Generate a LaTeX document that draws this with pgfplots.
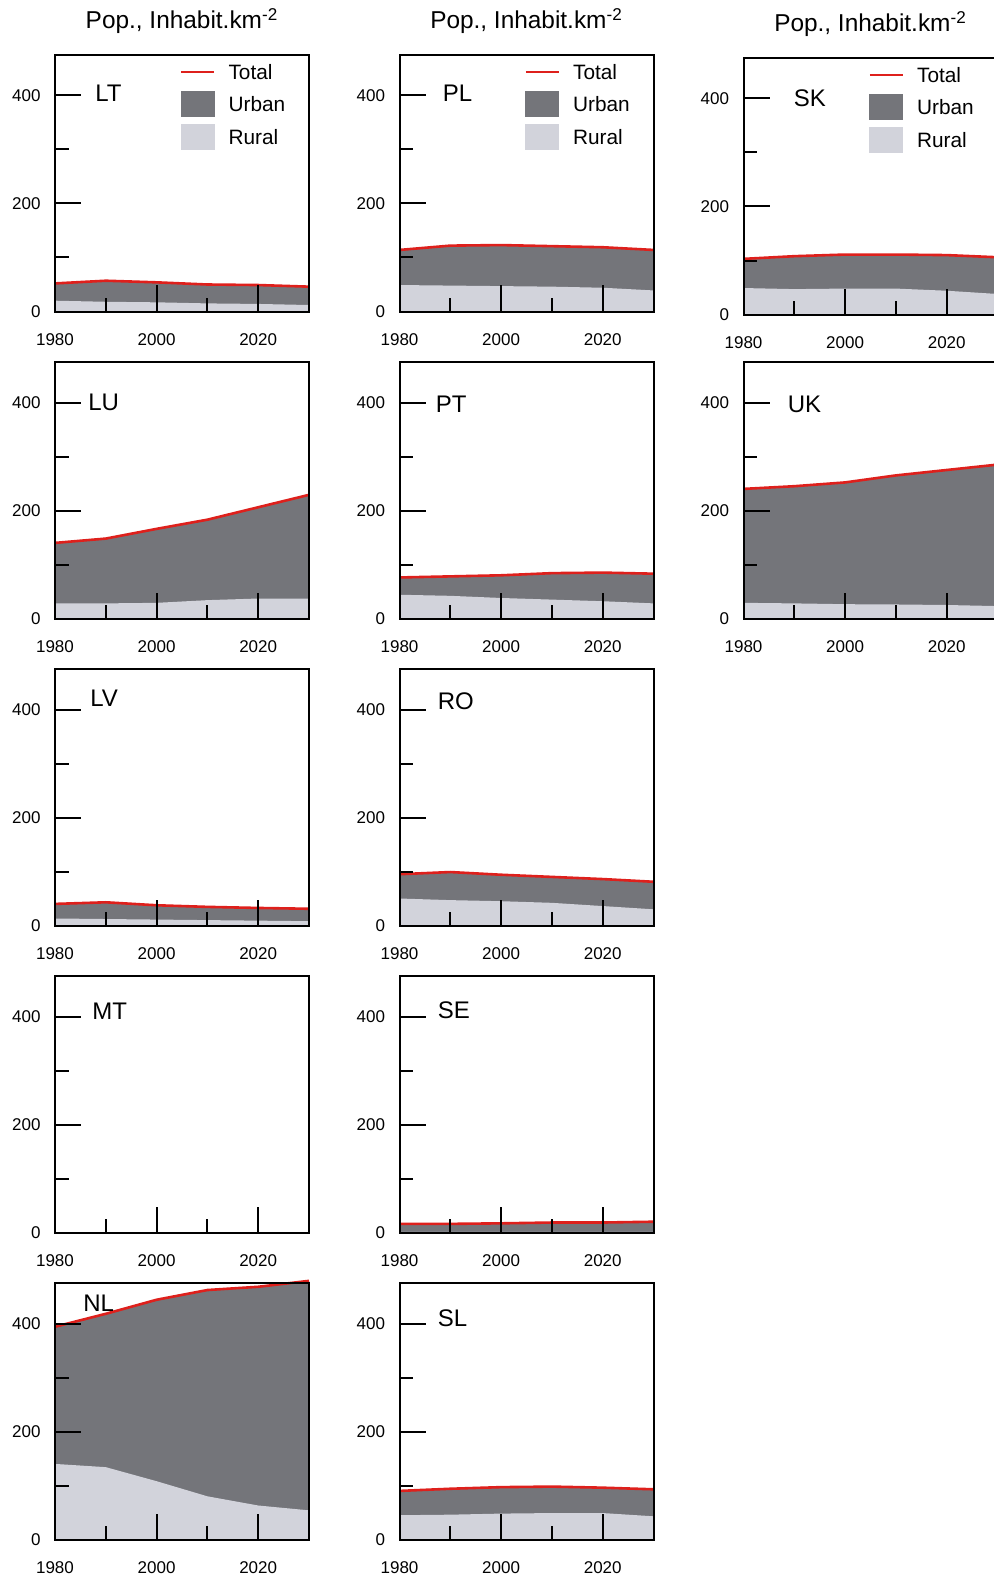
\documentclass[border=0pt]{standalone}
\usepackage{fontspec}
\setmainfont{Liberation Sans}
\usepackage{pgfplots}
\usepackage{pgfplotstable}
\pgfplotsset{compat=1.18}
\definecolor{urbanc}{RGB}{116,117,122}
\definecolor{ruralc}{RGB}{210,211,219}
\definecolor{redc}{RGB}{222,32,28}

\pgfplotstableread{
year rural urban total
1980 20 32 52
1990 18 39 57
2000 17 37 54
2010 15 35 50
2020 14 35 49
2030 12 34 46
}\tLT
\pgfplotstableread{
year rural urban total
1980 28 112 140
1990 28 120 148
2000 29 137 166
2010 34 149 183
2020 37 169 206
2030 37 192 229
}\tLU
\pgfplotstableread{
year rural urban total
1980 13 27 40
1990 12 31 43
2000 11 26.5 37.5
2010 10 24.5 34.5
2020 9 23.5 32.5
2030 8 23 31
}\tLV
\pgfplotstableread{
year rural urban total
1980 140 254 394
1990 134 284 418
2000 108 336 444
2010 80 382 462
2020 63 405 468
2030 54 425 479
}\tNL
\pgfplotstableread{
year rural urban total
1980 49 65 114
1990 48 74 122
2000 47 76 123
2010 46 75 121
2020 44 75 119
2030 39 75 114
}\tPL
\pgfplotstableread{
year rural urban total
1980 44 32 76
1990 42 36 78
2000 38 42 80
2010 35 49 84
2020 32 53 85
2030 28 55 83
}\tPT
\pgfplotstableread{
year rural urban total
1980 50 45 95
1990 47 52 99
2000 45 49 94
2010 42 48 90
2020 36 50 86
2030 30 51 81
}\tRO
\pgfplotstableread{
year rural urban total
1980 1 15 16
1990 1 15 16
2000 1 16 17
2010 1 17.5 18.5
2020 1 17.5 18.5
2030 1 19 20
}\tSE
\pgfplotstableread{
year rural urban total
1980 45 45 90
1990 46 48 94
2000 48 49 97
2010 49 49 98
2020 49 47 96
2030 43 50 93
}\tSL
\pgfplotstableread{
year rural urban total
1980 49 54 103
1990 47 61 108
2000 48 63 111
2010 48 63 111
2020 44 66 110
2030 38 68 106
}\tSK
\pgfplotstableread{
year rural urban total
1980 29 211 240
1990 28 217 245
2000 26.5 225.5 252
2010 26 239 265
2020 25 250 275
2030 23 262 285
}\tUK

\pgfplotsset{
  pan/.style={
    scale only axis, width=127pt, height=128.25pt,
    anchor=north west,
    xmin=1980, xmax=2030, ymin=0, ymax=475,
    xtick={1980,2000,2020}, minor xtick={1990,2010,2030},
    ytick={0,200,400}, minor ytick={100,300},
    tick pos=left, tick align=inside,
    major tick length=13pt, minor tick length=6.75pt,
    every tick/.style={black, line width=1pt},
    axis line style={line width=1pt},
    tick label style={font=\fontsize{8.5}{10}\selectfont},
    xticklabel style={yshift=-7.5pt},
    yticklabel style={xshift=-3.7pt},
    /pgf/number format/1000 sep={},
    /pgf/number format/assume math mode=true,
    axis on top,
    title style={font=\fontsize{12.2}{14}\selectfont, at={(0.5,1)}, anchor=center, yshift=11pt},
    legend cell align=left,
    legend style={draw=none, fill=none, inner sep=0pt, outer sep=0pt,
      at={(0.492,0.9825)}, anchor=north west,
      font=\fontsize{10.4}{12}\selectfont, row sep=3.5pt, column sep=6.5pt,
      nodes={inner sep=0pt, text height=10pt, text depth=2.5pt}},
  },
  totline/.style={color=redc, line width=1.3pt},
}
\newcommand\series[1]{%
  \addplot[fill=urbanc, draw=none, forget plot] table[x=year,y=total]{#1} \closedcycle;
  \addplot[fill=ruralc, draw=none, forget plot] table[x=year,y=rural]{#1} \closedcycle;
  \addplot[totline, forget plot] table[x=year,y=total]{#1};
}
\newcommand\leg{%
  \addlegendimage{legend image code/.code={\draw[color=redc, line width=1.3pt] (0pt,0pt) -- (16.5pt,0pt);}}
  \addlegendentry{Total}
  \addlegendimage{legend image code/.code={\fill[urbanc] (0pt,-6.25pt) rectangle (16.5pt,6.25pt);}}
  \addlegendentry{Urban}
  \addlegendimage{legend image code/.code={\fill[ruralc] (0pt,-6.25pt) rectangle (16.5pt,6.25pt);}}
  \addlegendentry{Rural}
}
\newcommand\lab[3]{\node[anchor=west, inner sep=0pt, font=\fontsize{12}{14}\selectfont] at (axis cs:1980,#2) [xshift=#1] {#3};}

\begin{document}
\begin{tikzpicture}
\path[use as bounding box] (0,0) rectangle (497pt,-788.5pt);
% column 1
\begin{axis}[pan, at={(27.5pt,-27.5pt)}, title={Pop., Inhabit.km\textsuperscript{-2}}]
\series{\tLT}\leg
\lab{20pt}{405}{LT}
\end{axis}
\begin{axis}[pan, at={(27.5pt,-181pt)}]
\series{\tLU}
\lab{16.5pt}{400}{LU}
\end{axis}
\begin{axis}[pan, at={(27.5pt,-334.5pt)}]
\series{\tLV}
\lab{17.5pt}{420}{LV}
\end{axis}
\begin{axis}[pan, at={(27.5pt,-488pt)}]
\lab{18.5pt}{410}{MT}
\end{axis}
\begin{axis}[pan, at={(27.5pt,-641.5pt)}, clip=false]
\series{\tNL}
\lab{14pt}{437}{NL}
\end{axis}
% column 2
\begin{axis}[pan, at={(199.75pt,-27.5pt)}, title={Pop., Inhabit.km\textsuperscript{-2}}]
\series{\tPL}\leg
\lab{21.5pt}{405}{PL}
\end{axis}
\begin{axis}[pan, at={(199.75pt,-181pt)}]
\series{\tPT}
\lab{18pt}{397}{PT}
\end{axis}
\begin{axis}[pan, at={(199.75pt,-334.5pt)}]
\series{\tRO}
\lab{19pt}{416}{RO}
\end{axis}
\begin{axis}[pan, at={(199.75pt,-488pt)}]
\series{\tSE}
\lab{19pt}{411}{SE}
\end{axis}
\begin{axis}[pan, at={(199.75pt,-641.5pt)}]
\series{\tSL}
\lab{19pt}{409}{SL}
\end{axis}
% column 3
\begin{axis}[pan, at={(371.75pt,-29pt)}, title={Pop., Inhabit.km\textsuperscript{-2}}]
\series{\tSK}\leg
\lab{25pt}{400}{SK}
\end{axis}
\begin{axis}[pan, at={(371.75pt,-181pt)}]
\series{\tUK}
\lab{22pt}{397}{UK}
\end{axis}
\end{tikzpicture}
\end{document}
